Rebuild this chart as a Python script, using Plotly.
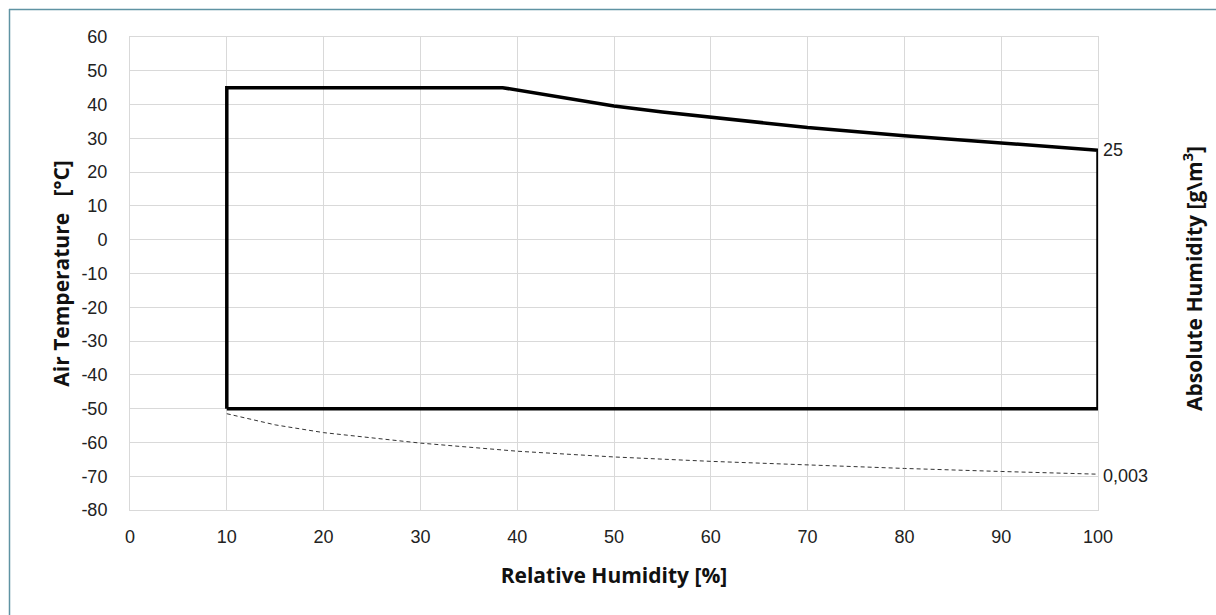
import plotly.graph_objects as go

# Envelope: relative humidity [%] vs air temperature [°C]
envelope_rh = [10, 10, 38.5, 45, 50, 55, 60, 65, 70, 80, 90, 100, 100, 10]
envelope_t = [-50, 45, 45, 41.9, 39.6, 37.8, 36.2, 34.6, 33.2, 30.8, 28.6, 26.5, -50, -50]

# Constant absolute humidity line 0,003 g/m3 (dashed)
low_rh = [10, 15, 20, 30, 40, 50, 60, 70, 80, 90, 100]
low_t = [-51.5, -54.8, -57.1, -60.2, -62.6, -64.3, -65.6, -66.7, -67.7, -68.6, -69.4]

label_upper = "25"
label_lower = "0,003"

x_ticks = [0, 10, 20, 30, 40, 50, 60, 70, 80, 90, 100]
x_tick_labels = ["0", "10", "20", "30", "40", "50", "60", "70", "80", "90", "100"]
y_ticks = [-80, -70, -60, -50, -40, -30, -20, -10, 0, 10, 20, 30, 40, 50, 60]
y_tick_labels = ["-80", "-70", "-60", "-50", "-40", "-30", "-20", "-10", "0",
                 "10", "20", "30", "40", "50", "60"]

W, H = 1216, 615
L, R, T, B = 130, 1098, 37, 510

fig = go.Figure()
fig.add_trace(go.Scatter(x=low_rh, y=low_t, mode="lines",
                         line=dict(color="#333333", width=1, dash="4px,3px"),
                         hoverinfo="skip", showlegend=False))
fig.add_trace(go.Scatter(x=envelope_rh, y=envelope_t, mode="lines",
                         line=dict(color="#000000", width=3.5),
                         showlegend=False))

tickfont = dict(family="Arial", size=18, color="#222222")
titlefont = dict(family="Open Sans", size=21, color="#111111")

fig.update_xaxes(range=[0, 100], tickvals=x_ticks, ticktext=x_tick_labels,
                 showgrid=True, gridcolor="#d9d9d9",
                 gridwidth=1, zeroline=False, showline=True, linecolor="#d9d9d9",
                 linewidth=1, mirror=True, ticks="outside", ticklen=10,
                 tickcolor="rgba(0,0,0,0)", tickfont=tickfont,
                 title=dict(text="<b>Relative Humidity [%]</b>", font=titlefont, standoff=22))
fig.update_yaxes(range=[-80, 60], tickvals=y_ticks, ticktext=y_tick_labels,
                 showgrid=True, gridcolor="#d9d9d9",
                 gridwidth=1, zeroline=False, showline=True, linecolor="#d9d9d9",
                 linewidth=1, mirror=True, ticks="outside", ticklen=18,
                 tickcolor="rgba(0,0,0,0)", tickfont=tickfont,
                 title=dict(text="<b>Air Temperature&nbsp;&nbsp; [°C]</b>", font=titlefont,
                            standoff=6))

annotations = [
    dict(x=envelope_rh[11], y=envelope_t[11], xref="x", yref="y", text=label_upper,
         showarrow=False, xanchor="left", yanchor="middle", xshift=3, yshift=0,
         font=tickfont),
    dict(x=low_rh[-1], y=low_t[-1], xref="x", yref="y", text=label_lower,
         showarrow=False, xanchor="left", yanchor="middle", xshift=3, yshift=-2,
         font=tickfont),
    dict(x=(1192 - L) / (R - L), y=(B - 279) / (B - T), xref="paper", yref="paper",
         text="<b>Absolute Humidity [g\\m<sup>3</sup>]</b>", textangle=-90,
         showarrow=False, xanchor="center", yanchor="middle", font=titlefont),
]

px = lambda p: (p - L) / (R - L)
py = lambda p: (B - p) / (B - T)
border = "#5f93a3"
shapes = [
    dict(type="line", xref="paper", yref="paper", x0=px(9.5), x1=px(9.5), y0=py(9), y1=py(640),
         line=dict(color=border, width=1.5)),
    dict(type="line", xref="paper", yref="paper", x0=px(9), x1=px(1240), y0=py(9.5), y1=py(9.5),
         line=dict(color=border, width=1.5)),
]

fig.update_layout(width=W, height=H, margin=dict(l=L, r=W - R, t=T, b=H - B),
                  plot_bgcolor="white", paper_bgcolor="white",
                  annotations=annotations, shapes=shapes)

fig.write_html("out.html")
